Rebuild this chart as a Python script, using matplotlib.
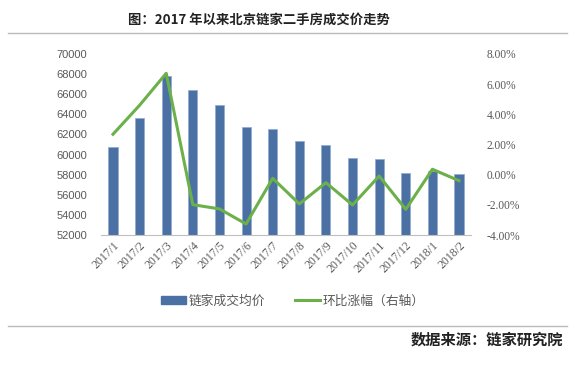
import matplotlib
matplotlib.use("Agg")
import matplotlib.pyplot as plt
from matplotlib.lines import Line2D
import numpy as np

plt.rcParams['font.family'] = ['Noto Sans CJK SC', 'DejaVu Sans']

months = ["2017/1", "2017/2", "2017/3", "2017/4", "2017/5", "2017/6", "2017/7",
          "2017/8", "2017/9", "2017/10", "2017/11", "2017/12", "2018/1", "2018/2"]
price = [60800, 63600, 67800, 66400, 64900, 62700, 62550,
         61300, 60950, 59700, 59600, 58200, 58350, 58100]
mom = [2.68, 4.6, 6.72, -1.99, -2.27, -3.27, -0.24,
       -1.94, -0.53, -2.01, -0.09, -2.30, 0.36, -0.40]
left_ticks = [52000, 54000, 56000, 58000, 60000, 62000, 64000, 66000, 68000, 70000]
right_ticks = [-4, -2, 0, 2, 4, 6, 8]

bar_color = "#4A70A4"
line_color = "#6CB04A"
grey = "#595959"

fig = plt.figure(figsize=(5.76, 3.65), dpi=100)
ax = fig.add_axes([101/576, 1-235/365, 370/576, 181/365])
x = np.arange(len(months))
ax.bar(x, price, width=0.34, color=bar_color, edgecolor="#8FA9CF", linewidth=0.5, zorder=2)
ax.set_ylim(52000, 70000)
ax.set_xlim(-0.45, len(months)-0.55)
ax.set_yticks(left_ticks)
ax.set_yticklabels([str(v) for v in left_ticks], fontsize=8, color=grey, family="Liberation Sans")
ax.set_xticks(x)
ax.set_xticklabels(months, rotation=45, ha="right", va="top", rotation_mode="anchor",
                   fontsize=8.5, color=grey, family="Liberation Serif")
ax.tick_params(axis="both", length=0, pad=3)
ax.tick_params(axis="y", pad=10)
for s in ["top", "right", "left"]:
    ax.spines[s].set_visible(False)
ax.spines["bottom"].set_color("#BFBFBF")
ax.spines["bottom"].set_linewidth(0.8)

ax2 = ax.twinx()
ax2.plot(x, mom, color=line_color, linewidth=2.2, zorder=3)
ax2.set_ylim(-4, 8)
ax2.set_yticks(right_ticks)
ax2.set_yticklabels([f"{v:.2f}%" for v in right_ticks], fontsize=8.3, color=grey, family="Liberation Serif")
ax2.tick_params(axis="y", length=0, pad=11)
for s in ["top", "right", "left", "bottom"]:
    ax2.spines[s].set_visible(False)

handles = [plt.Rectangle((0, 0), 1, 1, color=bar_color),
           Line2D([0], [0], color=line_color, linewidth=2.2)]
fig.legend(handles, ["链家成交均价", "环比涨幅（右轴）"], loc="center", bbox_to_anchor=(0.508, 1-301/365),
           ncol=2, frameon=False, fontsize=9.2, handlelength=2.0, handleheight=0.5,
           handletextpad=0.2, columnspacing=2.3, labelcolor=grey)

fig.text(0.45, 1-20/365, "图：2017 年以来北京链家二手房成交价走势", ha="center", va="center",
         fontsize=9.6, fontweight="bold", color="#222222")
fig.add_artist(Line2D([8/576, 567/576], [1-33/365, 1-33/365], color="#BBBBBB", linewidth=1))
fig.add_artist(Line2D([8/576, 567/576], [1-326/365, 1-326/365], color="#BBBBBB", linewidth=1))
fig.text(563/576, 1-340/365, "数据来源：链家研究院", ha="right", va="center",
         fontsize=11, fontweight="bold", color="#222222")

fig.savefig("out.png", dpi=100)
